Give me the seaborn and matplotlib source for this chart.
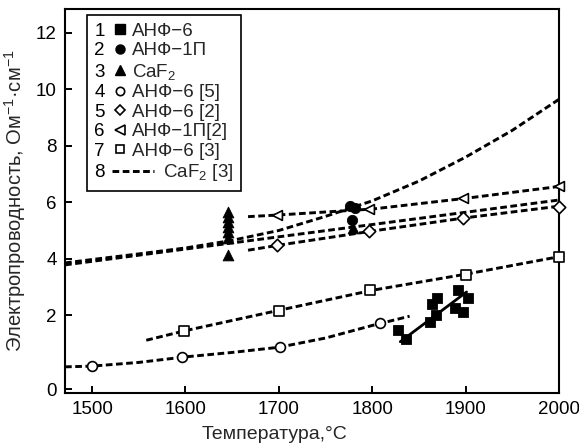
import numpy as np
import matplotlib.pyplot as plt
import seaborn as sns
from matplotlib.legend_handler import HandlerLine2D
from matplotlib.lines import Line2D
from matplotlib.text import Text

# %% Data (temperature, C / conductivity, Ohm^-1 cm^-1)
# 1 - АНФ-6 (own data, filled squares) + solid fit
s1_t = [1828, 1836, 1862, 1864, 1869, 1868, 1889, 1892, 1897, 1903]
s1_k = [1.59, 1.35, 1.81, 2.39, 2.60, 2.00, 2.25, 2.89, 2.11, 2.60]
fit1_t = [1830, 1901]
fit1_k = [1.28, 2.82]
# 2 - АНФ-1П (filled circles)
s2_t = [1776, 1782, 1778]
s2_k = [5.86, 5.80, 5.38]
# 3 - CaF2 (filled triangles)
s3_t = [1645, 1645, 1645, 1645, 1645, 1645, 1645, 1779]
s3_k = [5.65, 5.48, 5.30, 5.12, 4.94, 4.73, 4.13, 5.08]
# dashed line through own CaF2 / АНФ-1П points
fitb_t = [1471, 2000]
fitb_k = [3.78, 6.08]
# 4 - АНФ-6 [5]
s4_t = [1500, 1596, 1701, 1808]
s4_k = [0.62, 0.87, 1.13, 1.78]
c4_t = [1471, 1500, 1550, 1600, 1650, 1700, 1750, 1800, 1840]
c4_k = [0.60, 0.62, 0.72, 0.87, 0.99, 1.13, 1.38, 1.72, 1.97]
# 5 - АНФ-6 [2]
s5_t = [1698, 1797, 1897, 2000]
s5_k = [4.48, 4.99, 5.45, 5.84]
c5_t = [1667, 1700, 1800, 1900, 2000]
c5_k = [4.30, 4.48, 4.98, 5.45, 5.86]
# 6 - АНФ-1П [2]
s6_t = [1698, 1797, 1897, 2000]
s6_k = [5.55, 5.75, 6.14, 6.56]
c6_t = [1667, 1700, 1800, 1900, 2000]
c6_k = [5.49, 5.55, 5.76, 6.14, 6.56]
# 7 - АНФ-6 [3]
s7_t = [1598, 1700, 1798, 1900, 2000]
s7_k = [1.58, 2.15, 2.89, 3.42, 4.07]
c7_t = [1558, 1600, 1700, 1800, 1900, 2000]
c7_k = [1.32, 1.58, 2.17, 2.88, 3.45, 4.07]
# 8 - CaF2 [3]
c8_t = [1471, 1500, 1550, 1600, 1650, 1700, 1750, 1800, 1850, 1900, 1950, 2000]
c8_k = [3.85, 3.97, 4.17, 4.38, 4.65, 5.00, 5.50, 6.05, 6.75, 7.60, 8.55, 9.65]

legend_labels = ['АНФ−6', 'АНФ−1П', 'CaF$_\\mathrm{2}$', 'АНФ−6 [5]', 'АНФ−6 [2]',
                 'АНФ−1П[2]', 'АНФ−6 [3]', '      CaF$_\\mathrm{2}$ [3]']
x_ticks = [1500, 1600, 1700, 1800, 1900, 2000]
y_ticks = [0, 2, 4, 6, 8, 10, 12]

# %% Style
sns.set_style('ticks')
plt.rcParams['font.family'] = ['Liberation Sans', 'DejaVu Sans']
plt.rcParams['mathtext.fontset'] = 'custom'
plt.rcParams['mathtext.rm'] = 'Liberation Sans'
plt.rcParams['mathtext.it'] = 'Liberation Sans:italic'
FS = 13.5
DASH = (0, (2.3, 1.2))

# the original axis is stretched below 2
K = 1.31
def fwd(y):
    y = np.asarray(y, dtype=float)
    return np.where(y >= 2, y, 2 - (2 - y) * K)

def inv(d):
    d = np.asarray(d, dtype=float)
    return np.where(d >= 2, d, 2 - (2 - d) / K)

fig = plt.figure(figsize=(5.79, 4.46), dpi=100)
ax = fig.add_axes([0.1123, 0.1188, 0.8532, 0.861])
ax.set_yscale('function', functions=(fwd, inv))

# dashed literature curves
for t, k in [(c4_t, c4_k), (c5_t, c5_k), (c6_t, c6_k), (c7_t, c7_k),
             (c8_t, c8_k), (fitb_t, fitb_k)]:
    sns.lineplot(x=t, y=k, color='k', lw=2.1, linestyle=DASH, ax=ax)
# solid fit through own АНФ-6 data
sns.lineplot(x=fit1_t, y=fit1_k, color='k', lw=2.0, ax=ax)

# points
sns.scatterplot(x=s1_t, y=s1_k, marker='s', color='k', edgecolor='k', s=55, ax=ax, zorder=4)
sns.scatterplot(x=s2_t, y=s2_k, marker='o', color='k', edgecolor='k', s=55, ax=ax, zorder=4)
sns.scatterplot(x=s3_t, y=s3_k, marker='^', color='k', edgecolor='k', s=60, ax=ax, zorder=4)
open_kw = dict(color='white', edgecolor='k', linewidth=1.2, s=50, ax=ax, zorder=4, clip_on=False)
sns.scatterplot(x=s4_t, y=s4_k, marker='o', **open_kw)
sns.scatterplot(x=s5_t, y=s5_k, marker='D', **{**open_kw, 's': 40})
sns.scatterplot(x=s6_t, y=s6_k, marker='<', **open_kw)
sns.scatterplot(x=s7_t, y=s7_k, marker='s', **open_kw)

ax.set_xlim(1471, 2000)
ax.set_ylim(-0.108, 12.85)
ax.set_xticks(x_ticks)
ax.set_yticks(y_ticks)
ax.tick_params(direction='in', length=5, width=1.4, labelsize=FS, colors='k')
ax.tick_params(axis='x', pad=6)
ax.tick_params(axis='y', pad=6)
for sp in ax.spines.values():
    sp.set_linewidth(1.5)
    sp.set_color('k')

ax.set_xlabel('Температура,°C', fontsize=14)
ax.xaxis.set_label_coords(0.425, -0.085)
ax.set_ylabel('Электропроводность, Ом$^{-1}$·см$^{-1}$', fontsize=14.5)
ax.yaxis.set_label_coords(-0.075, 0.5)


# %% Legend with the curve number in front of each symbol
class NumberedHandler(HandlerLine2D):
    def __init__(self, num, shift, extend=0.0, **kw):
        super().__init__(**kw)
        self.num = num
        self.shift = shift
        self.extend = extend

    def create_artists(self, legend, orig_handle, xdescent, ydescent,
                       width, height, fontsize, trans):
        sh = self.shift * fontsize
        ex = self.extend * fontsize
        arts = super().create_artists(legend, orig_handle, xdescent - sh, ydescent,
                                      width - sh + ex, height, fontsize, trans)
        t = Text(-xdescent, 0, self.num, ha='left', va='baseline',
                 fontsize=fontsize, color='k', transform=trans)
        return list(arts) + [t]


handles = [
    Line2D([], [], marker='s', color='k', ls='none', ms=6.5),
    Line2D([], [], marker='o', color='k', ls='none', ms=6.5),
    Line2D([], [], marker='^', color='k', ls='none', ms=7),
    Line2D([], [], marker='o', color='k', mfc='white', ls='none', ms=6, mew=1.2),
    Line2D([], [], marker='D', color='k', mfc='white', ls='none', ms=5.5, mew=1.2),
    Line2D([], [], marker='<', color='k', mfc='white', ls='none', ms=6.5, mew=1.2),
    Line2D([], [], marker='s', color='k', mfc='white', ls='none', ms=6, mew=1.2),
    Line2D([], [], color='k', ls=DASH, lw=2.1),
]
hmap = {}
for i, h in enumerate(handles):
    if i == 7:
        hmap[h] = NumberedHandler(str(i + 1), 0.94, 1.45)
    else:
        hmap[h] = NumberedHandler(str(i + 1), 0.99)

leg = ax.legend(handles, legend_labels, handler_map=hmap, loc='upper left',
                bbox_to_anchor=(0.044, 0.984), borderaxespad=0, fontsize=13.5,
                handlelength=1.72, handletextpad=0.3, labelspacing=0.13,
                borderpad=0.4, numpoints=1, fancybox=False, framealpha=1)
leg.get_frame().set_edgecolor('k')
leg.get_frame().set_linewidth(1.2)

fig.savefig('out.png', dpi=100)
